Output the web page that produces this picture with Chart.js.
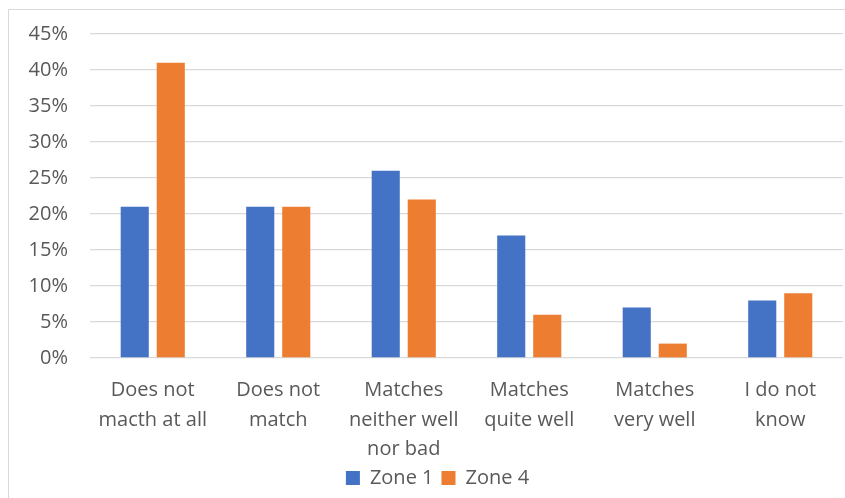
<!DOCTYPE html>
<html>
<head>
<meta charset="utf-8">
<script src="https://cdn.jsdelivr.net/npm/chart.js@4"></script>
<style>
  html, body { margin: 0; padding: 0; background: #fff; overflow: hidden; }
  #wrap { position: relative; width: 845px; height: 498px; }
</style>
</head>
<body>
<div id="wrap"><canvas id="c" width="845" height="498"></canvas></div>
<script>
// Survey answers per category, in percent
const categories = [
  ["Does not", "macth at all"],
  ["Does not", "match"],
  ["Matches", "neither well", "nor bad"],
  ["Matches", "quite well"],
  ["Matches", "very well"],
  ["I do not", "know"]
];
const zone1 = [21, 21, 26, 17, 7, 8];
const zone4 = [41, 21, 22, 6, 2, 9];
const seriesNames = ["Zone 1", "Zone 4"];
const yTicks = [0, 5, 10, 15, 20, 25, 30, 35, 40, 45];

const textColor = '#595959';
const gridColor = '#d9d9d9';
const fontFamily = "'Open Sans', 'Liberation Sans', sans-serif";

// Light frame around the whole chart; legend nudged to the chart frame's centre
const framePlugin = {
  id: 'frame',
  afterLayout(chart) {
    const lg = chart.legend;
    if (lg) { lg.left += 16; lg.right += 16; }
  },
  beforeDraw(chart) {
    const ctx = chart.ctx;
    ctx.save();
    ctx.fillStyle = '#fff';
    ctx.fillRect(0, 0, chart.width, chart.height);
    ctx.strokeStyle = gridColor;
    ctx.lineWidth = 1;
    ctx.beginPath();
    ctx.moveTo(8.5, chart.height);
    ctx.lineTo(8.5, 9.5);
    ctx.lineTo(chart.width, 9.5);
    ctx.stroke();
    ctx.restore();
  }
};

new Chart(document.getElementById('c'), {
  type: 'bar',
  data: {
    labels: categories,
    datasets: [
      { label: seriesNames[0], data: zone1, backgroundColor: '#4472C4' },
      { label: seriesNames[1], data: zone4, backgroundColor: '#ED7D31' }
    ]
  },
  plugins: [framePlugin],
  options: {
    responsive: false,
    animation: false,
    devicePixelRatio: 1,
    categoryPercentage: 0.574,
    barPercentage: 0.78,
    layout: { padding: { top: 34, left: 0, right: 2, bottom: 0 } },
    plugins: {
      legend: {
        position: 'bottom',
        labels: {
          color: textColor,
          font: { family: fontFamily, size: 20 },
          boxWidth: 14,
          boxHeight: 14,
          padding: 8
        }
      },
      tooltip: { enabled: false }
    },
    scales: {
      x: {
        grid: { display: false },
        border: { display: false },
        ticks: {
          color: textColor,
          font: { family: fontFamily, size: 20, lineHeight: 1.47 },
          maxRotation: 0,
          autoSkip: false,
          padding: 10
        },
        afterFit(scale) { scale.height = 102; }
      },
      y: {
        min: 0,
        max: 45,
        afterBuildTicks(scale) { scale.ticks = yTicks.map(v => ({ value: v })); },
        grid: { color: gridColor, lineWidth: 1.3, drawTicks: false },
        border: { display: false },
        ticks: {
          color: textColor,
          font: { family: fontFamily, size: 20 },
          padding: 22,
          callback: v => v + '%'
        },
        afterFit(scale) { scale.width = 90; }
      }
    }
  }
});
</script>
</body>
</html>
